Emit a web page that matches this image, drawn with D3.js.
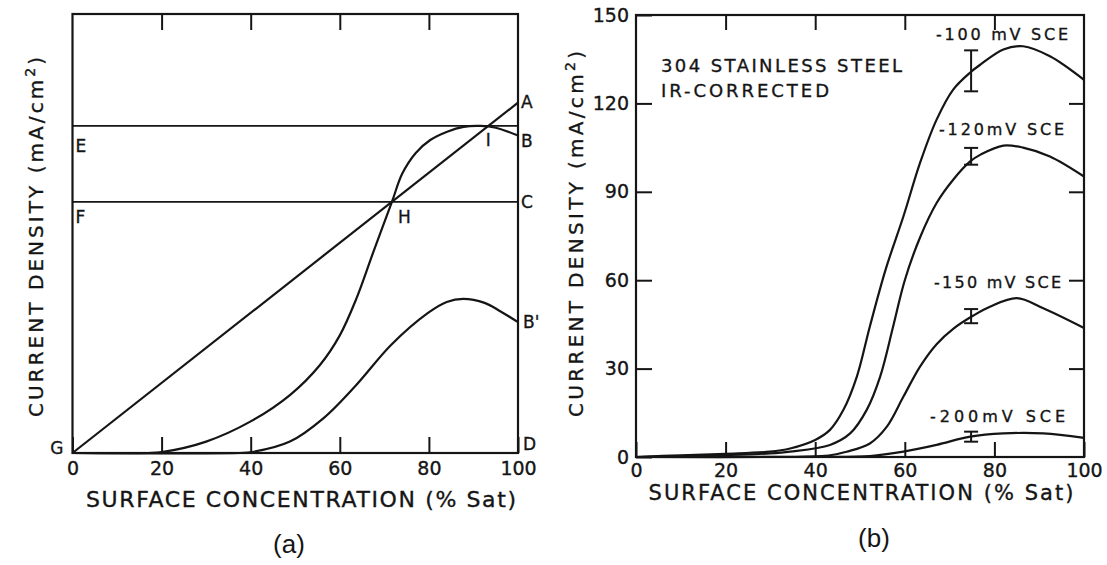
<!DOCTYPE html>
<html>
<head>
<meta charset="utf-8">
<script src="https://cdn.jsdelivr.net/npm/d3@7"></script>
<style>
  body { margin: 0; background: #fff; }
  text { font-family: "DejaVu Sans", sans-serif; fill: #151515; stroke: #151515; stroke-width: 0.35; }
  .caption { font-family: "Liberation Sans", Arial, sans-serif; stroke: none; }
</style>
</head>
<body>
<div class="chart"></div>
<script>
// ---- data: panel (a), schematic (y in arbitrary units 0-100)
const xTicks = [0, 20, 40, 60, 80, 100];
const innerTicks = [20, 40, 60, 80];

const lineGA_x = [0, 100];
const lineGA_y = [0, 79.8];
const levelE = 74.5;
const levelF = 57.2;

const curveB_x = [0, 17, 20, 30, 40, 48.8, 55.5, 60, 63.7, 67.5, 71.7, 74, 77, 80.3, 84.1, 87.8, 91.6, 95, 100];
const curveB_y = [0, 0, 0.2, 2.6, 7.2, 13.2, 20, 26.8, 35.1, 45.7, 57.2, 63.6, 68.3, 71.3, 73.2, 74.3, 74.5, 74.1, 72.3];

const curveBp_x = [0, 37.5, 40.2, 48.8, 56.3, 63.7, 71.5, 79.8, 84, 87.7, 92.5, 96, 100];
const curveBp_y = [0, 0, 0.2, 2.6, 7.9, 15.5, 24.6, 31.9, 34.4, 35.1, 34.2, 32.3, 29.8];

// ---- data: panel (b), 304 stainless steel
const yTicksB = [0, 30, 60, 90, 120, 150];

const c100_x = [0, 10, 20, 29.9, 34.4, 40, 43.3, 46.3, 49.3, 52.2, 55.8, 59.7, 63.4, 67.1, 70.8, 74.6, 77, 82, 86.4, 92.4, 100];
const c100_y = [0, 0.6, 1.1, 1.8, 2.9, 5.8, 9.2, 16, 27.3, 44.3, 64, 81.7, 99.8, 114.5, 124.7, 130.5, 133.3, 138.3, 139.4, 136, 128];

const c120_x = [0, 10, 20, 29.9, 34.4, 43.3, 47.8, 51.5, 54.5, 57.4, 60, 63.4, 67.1, 70.8, 74.6, 77, 82, 86.4, 92.4, 100];
const c120_y = [0, 0.3, 0.7, 1.2, 1.8, 4.1, 8, 16, 27.3, 44.3, 60, 74.5, 86.2, 94.1, 100.3, 102.7, 105.7, 105, 102, 95.2];

const c150_x = [0, 20, 43, 47, 52.2, 56, 59.7, 63.4, 67.1, 70.8, 75.3, 79, 85, 90.9, 100];
const c150_y = [0, 0.1, 0.5, 1.8, 4.6, 10.3, 20.5, 30.7, 38.3, 43.5, 48, 51, 53.9, 50.5, 43.8];

const c200_x = [0, 36, 40, 52.2, 59.7, 67.1, 74.6, 82, 90.9, 100];
const c200_y = [0, 0, 0.05, 0.3, 1.8, 4.1, 6.9, 8, 8, 6.5];

// error bars at ~75 %Sat
const errX = 74.8;
const errLow = [124.1, 99.2, 45.4, 5.2];
const errHigh = [138, 104.9, 50.2, 8.6];

const curveLabels = ["-100 mV SCE", "-120mV SCE", "-150 mV SCE", "-200mV SCE"];

const W = 1107, H = 565;
const svg = d3.select(".chart").append("svg")
    .attr("width", W)
    .attr("height", H);

const zip = (xs, ys) => xs.map((x, i) => [x, ys[i]]);

function frame(g, x, y) {
    g.append("rect")
        .attr("x", x.range()[0]).attr("y", y.range()[1])
        .attr("width", x.range()[1] - x.range()[0])
        .attr("height", y.range()[0] - y.range()[1])
        .attr("fill", "none").attr("stroke", "#151515").attr("stroke-width", 2.2);
}

function styleAxis(sel, size) {
    sel.select(".domain").remove();
    sel.selectAll(".tick line").attr("stroke", "#151515").attr("stroke-width", 2);
    sel.selectAll(".tick text").attr("font-size", size).attr("fill", "#151515")
        .attr("font-family", "DejaVu Sans");
}

function curve(g, x, y, xs, ys) {
    const line = d3.line().x(d => x(d[0])).y(d => y(d[1])).curve(d3.curveCatmullRom.alpha(0.5));
    g.append("path").datum(zip(xs, ys))
        .attr("d", line)
        .attr("fill", "none").attr("stroke", "#151515").attr("stroke-width", 2.2);
}

function yTitle(g, cx, cy, len) {
    const t = g.append("text")
        .attr("transform", `translate(${cx},${cy}) rotate(-90)`)
        .attr("text-anchor", "middle")
        .attr("font-size", 20)
        .attr("textLength", len).attr("lengthAdjust", "spacing");
    t.append("tspan").text("CURRENT DENSITY (mA/cm");
    t.append("tspan").attr("font-size", 14).attr("dy", -8).text("2");
    t.append("tspan").attr("dy", 8).text(")");
}

// ================= panel (a)
const xA = d3.scaleLinear().domain([0, 100]).range([72.5, 518]);
const yA = d3.scaleLinear().domain([0, 100]).range([453, 14]);
const gA = svg.append("g");

frame(gA, xA, yA);

gA.append("g").attr("transform", `translate(0,${yA(0)})`)
    .call(d3.axisBottom(xA).tickValues(xTicks).tickSize(-16).tickPadding(9))
    .call(s => styleAxis(s, 19));
gA.append("g").attr("transform", `translate(0,${yA(100)})`)
    .call(d3.axisTop(xA).tickValues(innerTicks).tickSize(-16).tickFormat(""))
    .call(s => styleAxis(s, 19));

[levelE, levelF].forEach(v => {
    gA.append("line")
        .attr("x1", xA(0)).attr("x2", xA(100))
        .attr("y1", yA(v)).attr("y2", yA(v))
        .attr("stroke", "#151515").attr("stroke-width", 1.8);
});
curve(gA, xA, yA, lineGA_x, lineGA_y);
curve(gA, xA, yA, curveB_x, curveB_y);
curve(gA, xA, yA, curveBp_x, curveBp_y);

const letters = [
    ["A", xA(100) + 3, yA(79.8) + 5, "start"],
    ["B", xA(100) + 3, yA(72.3) + 11, "start"],
    ["I", xA(93.3), yA(levelE) + 20, "middle"],
    ["E", xA(0) + 3, yA(levelE) + 26, "start"],
    ["F", xA(0) + 3, yA(levelF) + 21, "start"],
    ["H", xA(71.7) + 6, yA(levelF) + 21, "start"],
    ["C", xA(100) + 3, yA(levelF) + 6, "start"],
    ["B'", xA(100) + 5, yA(29.8) + 6, "start"],
    ["D", xA(100) + 5, yA(0) - 3, "start"],
    ["G", xA(0) - 9, yA(0) + 1, "end"]
];
gA.selectAll(".letter").data(letters).enter().append("text")
    .attr("class", "letter")
    .attr("x", d => d[1]).attr("y", d => d[2])
    .attr("text-anchor", d => d[3])
    .attr("font-size", 17)
    .text(d => d[0]);

yTitle(gA, 43, 237, 360);
gA.append("text")
    .attr("x", 301).attr("y", 507)
    .attr("text-anchor", "middle")
    .attr("font-size", 22)
    .attr("textLength", 430).attr("lengthAdjust", "spacing")
    .text("SURFACE CONCENTRATION (% Sat)");
gA.append("text").attr("class", "caption")
    .attr("x", 289).attr("y", 553)
    .attr("text-anchor", "middle")
    .attr("font-size", 26)
    .text("(a)");

// ================= panel (b)
const xB = d3.scaleLinear().domain([0, 100]).range([636, 1084]);
const yB = d3.scaleLinear().domain([0, 150]).range([457, 15]);
const gB = svg.append("g");

frame(gB, xB, yB);

gB.append("g").attr("transform", `translate(0,${yB(0)})`)
    .call(d3.axisBottom(xB).tickValues(xTicks).tickSize(-15).tickPadding(7))
    .call(s => styleAxis(s, 19));
gB.append("g").attr("transform", `translate(0,${yB(150)})`)
    .call(d3.axisTop(xB).tickValues(innerTicks).tickSize(-15).tickFormat(""))
    .call(s => styleAxis(s, 19));
gB.append("g").attr("transform", `translate(${xB(0)},0)`)
    .call(d3.axisLeft(yB).tickValues(yTicksB).tickSize(-16).tickPadding(7))
    .call(s => styleAxis(s, 19));
gB.append("g").attr("transform", `translate(${xB(100)},0)`)
    .call(d3.axisRight(yB).tickValues(yTicksB.slice(1, -1)).tickSize(-15).tickFormat(""))
    .call(s => styleAxis(s, 19));

[[c100_x, c100_y], [c120_x, c120_y], [c150_x, c150_y], [c200_x, c200_y]]
    .forEach(c => curve(gB, xB, yB, c[0], c[1]));

errLow.forEach((lo, i) => {
    const hi = errHigh[i], cx = xB(errX);
    const eb = gB.append("g").attr("stroke", "#151515").attr("stroke-width", 2);
    eb.append("line").attr("x1", cx).attr("x2", cx).attr("y1", yB(lo)).attr("y2", yB(hi));
    eb.append("line").attr("x1", cx - 7).attr("x2", cx + 7).attr("y1", yB(lo)).attr("y2", yB(lo));
    eb.append("line").attr("x1", cx - 7).attr("x2", cx + 7).attr("y1", yB(hi)).attr("y2", yB(hi));
});

const labelPos = [[936, 40, 132], [939, 135, 125], [934, 288, 127], [930, 422, 135]];
gB.selectAll(".clabel").data(curveLabels).enter().append("text")
    .attr("class", "clabel")
    .attr("x", (d, i) => labelPos[i][0]).attr("y", (d, i) => labelPos[i][1])
    .attr("font-size", 16)
    .attr("textLength", (d, i) => labelPos[i][2]).attr("lengthAdjust", "spacing")
    .text(d => d);

gB.append("text").attr("x", 661).attr("y", 72).attr("font-size", 18)
    .attr("textLength", 241).attr("lengthAdjust", "spacing")
    .text("304  STAINLESS STEEL");
gB.append("text").attr("x", 661).attr("y", 97).attr("font-size", 18)
    .attr("textLength", 168).attr("lengthAdjust", "spacing")
    .text("IR-CORRECTED");

yTitle(gB, 583, 234, 366);
gB.append("text")
    .attr("x", 861).attr("y", 500)
    .attr("text-anchor", "middle")
    .attr("font-size", 21)
    .attr("textLength", 425).attr("lengthAdjust", "spacing")
    .text("SURFACE CONCENTRATION (% Sat)");
gB.append("text").attr("class", "caption")
    .attr("x", 874).attr("y", 547)
    .attr("text-anchor", "middle")
    .attr("font-size", 26)
    .text("(b)");
</script>
</body>
</html>
